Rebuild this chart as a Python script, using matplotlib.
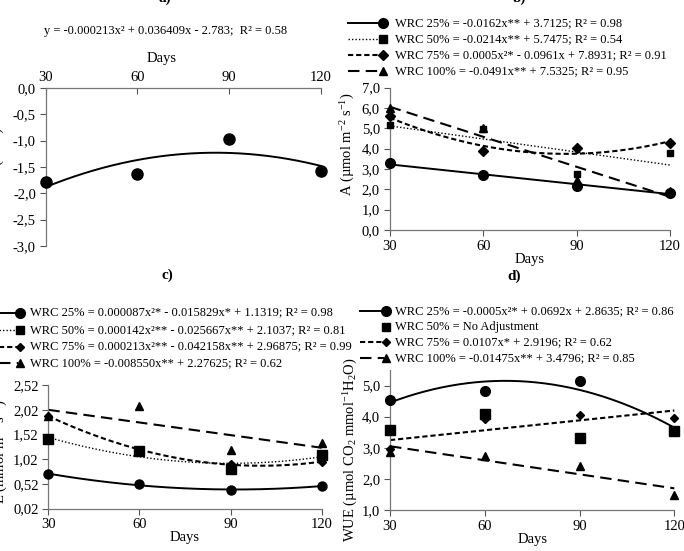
import numpy as np
import matplotlib
matplotlib.use('Agg')
import matplotlib.pyplot as plt
from matplotlib.lines import Line2D

plt.rcParams['font.family'] = ['Liberation Serif', 'DejaVu Serif']
plt.rcParams['mathtext.fontset'] = 'custom'
plt.rcParams['mathtext.rm'] = 'Liberation Serif'
plt.rcParams['mathtext.it'] = 'Liberation Serif:italic'
plt.rcParams['mathtext.bf'] = 'Liberation Serif:bold'

# ---------------- data ----------------
days = [30, 60, 90, 120]

# a) leaf water potential (MPa)
psi_w = [-1.79, -1.64, -0.96, -1.57]
psi_label = "y = -0.000213x² + 0.036409x - 2.783;  R² = 0.58"

# b) net photosynthesis A
A_25 = [3.27, 2.71, 2.16, 1.83]
A_50 = [5.15, 4.97, 2.73, 3.76]
A_75 = [5.61, 3.86, 4.02, 4.27]
A_100 = [5.97, 5.02, 2.48, 1.90]
A_labels = ["WRC 25% = -0.0162x** + 3.7125; R² = 0.98",
            "WRC 50% = -0.0214x** + 5.7475; R² = 0.54",
            "WRC 75% = 0.0005x²* - 0.0961x + 7.8931; R² = 0.91",
            "WRC 100% = -0.0491x** + 7.5325; R² = 0.95"]
A_deg = [1, 1, 2, 1]

# c) transpiration E
E_25 = [0.72, 0.507, 0.387, 0.48]
E_50 = [1.42, 1.187, 0.813, 1.107]
E_75 = [1.90, 1.19, 0.93, 0.96]
E_100 = [1.90, 2.087, 1.207, 1.34]
E_labels = ["WRC 25% = 0.000087x²* - 0.015829x* + 1.1319; R² = 0.98",
            "WRC 50% = 0.000142x²** - 0.025667x** + 2.1037; R² = 0.81",
            "WRC 75% = 0.000213x²** - 0.042158x** + 2.96875; R² = 0.99",
            "WRC 100% = -0.008550x** + 2.27625; R² = 0.62"]
E_deg = [2, 2, 2, 1]

# d) water use efficiency
WUE_25 = [4.55, 4.84, 5.15, 3.55]
WUE_50 = [3.58, 4.10, 3.32, 3.53]
WUE_75 = [2.95, 3.92, 4.06, 3.96]
WUE_100 = [2.87, 2.74, 2.40, 1.48]
WUE_labels = ["WRC 25% = -0.0005x²* + 0.0692x + 2.8635; R² = 0.86",
              "WRC 50% = No Adjustment",
              "WRC 75% = 0.0107x* + 2.9196; R² = 0.62",
              "WRC 100% = -0.01475x** + 3.4796; R² = 0.85"]
WUE_deg = [2, None, 1, 1]

# ---------------- styles ----------------
markers = ['o', 's', 'D', '^']
lstyles = ['-', (0, (1, 1.5)), (0, (2.5, 1.4)), (0, (5.5, 3))]
lwidths = [1.4, 1.0, 1.5, 1.5]

W, H = 684, 551
fig = plt.figure(figsize=(W / 100, H / 100), dpi=100)


def fx(px):
    return px / W


def fy(py):
    return 1 - py / H


def make_ax(l, r, t, b):
    return fig.add_axes([fx(l), fy(b), fx(r) - fx(l), (b - t) / H])


TICK_FS = 10.5
LAB_FS = 10.5
LEG_FS = 9


def fmt_axis(ax, yt, ydec):
    ax.set_xlim(30, 120)
    ax.set_xticks(days)
    ax.set_xticklabels([str(d) for d in days], fontsize=TICK_FS)
    ax.set_yticks(yt)
    ax.set_yticklabels([(f"{v:.{ydec}f}").replace('.', ',') for v in yt], fontsize=TICK_FS)
    ax.tick_params(length=4, width=0.8, color='#555555', pad=3)
    for s in ax.spines.values():
        s.set_color('#777777')
        s.set_linewidth(0.9)


def plot_series(ax, vals, k, deg, ms):
    if deg is not None:
        xf = np.linspace(30, 120, 200)
        c = np.polyfit(days, vals, deg)
        ax.plot(xf, np.polyval(c, xf), color='black', ls=lstyles[k], lw=lwidths[k],
                clip_on=False, zorder=2)
    ax.plot(days, vals, ls='none', marker=markers[k], ms=ms, color='black',
            clip_on=False, zorder=3 + k)


def legend(entries, degs, ms_list, x0, xm, xt, ys):
    for k, (lab, y) in enumerate(zip(entries, ys)):
        if degs[k] is not None:
            fig.add_artist(Line2D([fx(x0), fx(xm)], [fy(y), fy(y)], transform=fig.transFigure,
                                  color='black', ls=lstyles[k], lw=lwidths[k]))
        fig.add_artist(Line2D([fx(xm + 2)], [fy(y)], transform=fig.transFigure, ls='none',
                              marker=markers[k], ms=ms_list[k], color='black'))
        fig.text(fx(xt), fy(y), lab, fontsize=LEG_FS, va='center', ha='left')


# ---------------- a) ----------------
axa = make_ax(45.7, 320.7, 88, 246)
fmt_axis(axa, np.arange(-3.0, 0.01, 0.5), 1)
axa.set_ylim(-3, 0)
axa.xaxis.tick_top()
axa.xaxis.set_label_position('top')
axa.tick_params(axis='x', direction='in', length=4)
axa.spines['bottom'].set_visible(False)
axa.spines['right'].set_visible(False)
axa.set_xlabel('Days', fontsize=LAB_FS, labelpad=1)
axa.xaxis.set_label_coords(0.42, 1.165)
axa.set_ylabel('Ψw (MPa)', fontsize=LAB_FS)
axa.yaxis.set_label_coords(-0.15, 0.55)
plot_series(axa, psi_w, 0, 2, 8)
fig.text(fx(166), fy(31), psi_label, fontsize=LEG_FS, ha='center', va='center')
fig.text(fx(165), fy(-2), 'a)', fontsize=11, fontweight='bold', ha='center', va='center')

# ---------------- b) ----------------
axb = make_ax(389.7, 670, 87.5, 230)
fmt_axis(axb, np.arange(0, 7.01, 1.0), 1)
axb.set_ylim(0, 7)
axb.spines['top'].set_visible(False)
axb.spines['right'].set_visible(False)
axb.set_xlabel('Days', fontsize=LAB_FS, labelpad=0)
axb.set_ylabel('A (µmol m$^{-2}$ s$^{-1}$)', fontsize=LAB_FS)
axb.yaxis.set_label_coords(-0.115, 0.6)
b_ms = [7, 4.5, 5, 6]
for k, vals in enumerate([A_25, A_50, A_75, A_100]):
    plot_series(axb, vals, k, A_deg[k], b_ms[k])
legend(A_labels, A_deg, [7, 5.5, 5, 6], 348, 381, 395, [23, 39, 55, 71])
fig.text(fx(520), fy(-2), 'b)', fontsize=11, fontweight='bold', ha='center', va='center')

# ---------------- c) ----------------
axc = make_ax(48.3, 321.7, 385, 508.5)
fmt_axis(axc, np.arange(0.02, 2.53, 0.5), 2)
axc.set_ylim(0.02, 2.52)
axc.spines['top'].set_visible(False)
axc.spines['right'].set_visible(False)
axc.set_xlabel('Days', fontsize=LAB_FS, labelpad=0)
axc.set_ylabel('E (mmol m$^{-2}$ s$^{-1}$)', fontsize=LAB_FS)
axc.yaxis.set_label_coords(-0.14, 0.46)
c_ms = [6.5, 6.5, 4.5, 6]
for k, vals in enumerate([E_25, E_50, E_75, E_100]):
    plot_series(axc, vals, k, E_deg[k], c_ms[k])
legend(E_labels, E_deg, [7, 6, 4.5, 5.5], -17, 18, 30, [312.7, 330, 346.7, 363.3])
fig.text(fx(167), fy(275), 'c)', fontsize=11, fontweight='bold', ha='center', va='center')

# ---------------- d) ----------------
axd = make_ax(390, 674.3, 370, 510)
fmt_axis(axd, np.arange(1.0, 5.01, 1.0), 1)
axd.set_ylim(1, 5.5)
axd.spines['top'].set_visible(False)
axd.spines['right'].set_visible(False)
axd.set_xlabel('Days', fontsize=LAB_FS, labelpad=0)
axd.set_ylabel('WUE (µmol CO$_2$ mmol$^{-1}$H$_2$O)', fontsize=LAB_FS)
axd.yaxis.set_label_coords(-0.105, 0.43)
d_ms = [7, 7, 4.5, 6]
for k, vals in enumerate([WUE_25, WUE_50, WUE_75, WUE_100]):
    plot_series(axd, vals, k, WUE_deg[k], d_ms[k])
legend(WUE_labels, WUE_deg, [7, 6, 4.5, 5.5], 360, 384, 395, [311, 326.7, 342.3, 358.3])
fig.text(fx(514), fy(276), 'd)', fontsize=11, fontweight='bold', ha='center', va='center')

fig.savefig('out.png', dpi=100)
